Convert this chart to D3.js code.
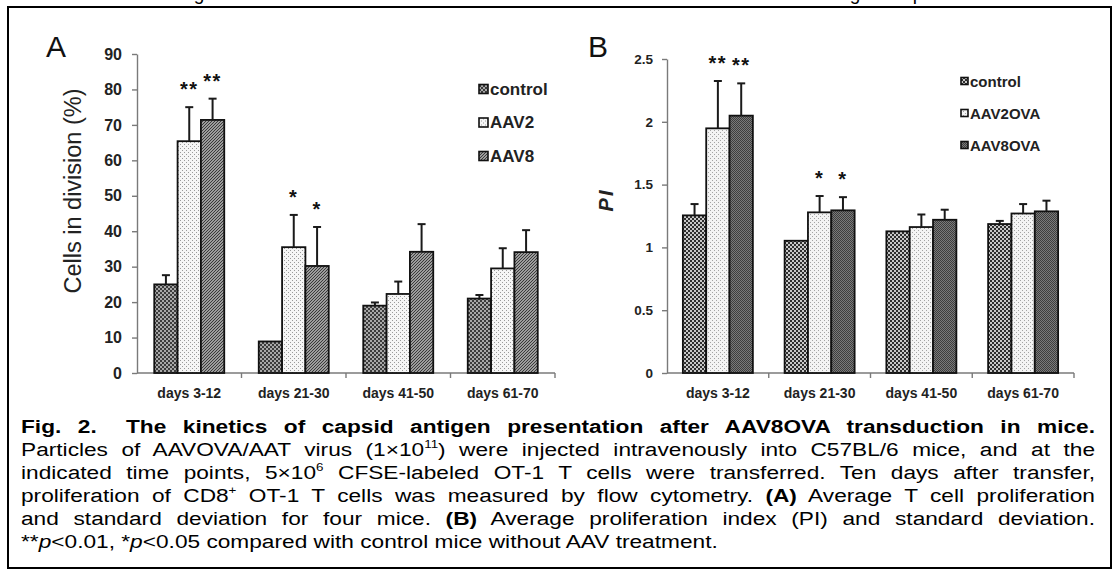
<!DOCTYPE html>
<html>
<head>
<meta charset="utf-8">
<script src="https://cdn.jsdelivr.net/npm/d3@7"></script>
<style>
  body { margin: 0; background: #fff; }
  svg { display: block; }
</style>
</head>
<body>
<svg id="chart" width="1117" height="574"></svg>
<script>
// categories shared by both panels
const categories = ["days 3-12", "days 21-30", "days 41-50", "days 61-70"];

// panel A: cells in division (%)
const seriesA = ["control", "AAV2", "AAV8"];
const controlA = [25.0, 8.9, 19.0, 21.0];
const aav2A = [65.4, 35.5, 22.3, 29.5];
const aav8A = [71.4, 30.2, 34.2, 34.1];
const controlAErr = [2.6, 0, 0.9, 1.0];
const aav2AErr = [9.6, 9.1, 3.5, 5.7];
const aav8AErr = [6.0, 11.0, 7.8, 6.2];
const aav2AStars = ["**", "*", "", ""];
const aav8AStars = ["**", "*", "", ""];
const ticksA = [0, 10, 20, 30, 40, 50, 60, 70, 80, 90];

// panel B: proliferation index
const seriesB = ["control", "AAV2OVA", "AAV8OVA"];
const controlB = [1.255, 1.053, 1.128, 1.186];
const aav2B = [1.948, 1.279, 1.162, 1.270];
const aav8B = [2.049, 1.295, 1.220, 1.287];
const controlBErr = [0.09, 0, 0, 0.025];
const aav2BErr = [0.377, 0.13, 0.10, 0.075];
const aav8BErr = [0.257, 0.105, 0.08, 0.085];
const aav2BStars = ["**", "*", "", ""];
const aav8BStars = ["**", "*", "", ""];
const ticksB = [0, 0.5, 1, 1.5, 2, 2.5];

const svg = d3.select("#chart");
const defs = svg.append("defs");
const font = "'Liberation Sans', Arial, sans-serif";

// fill patterns, like the old excel ones
function checker(id, bg, fg, size, cell) {
  const p = defs.append("pattern").attr("id", id)
    .attr("patternUnits", "userSpaceOnUse").attr("width", size).attr("height", size);
  p.append("rect").attr("width", size).attr("height", size).attr("fill", bg);
  p.append("rect").attr("width", cell).attr("height", cell).attr("fill", fg);
  p.append("rect").attr("x", size / 2).attr("y", size / 2).attr("width", cell).attr("height", cell).attr("fill", fg);
}
function hatch(id, bg, fg) {
  const p = defs.append("pattern").attr("id", id)
    .attr("patternUnits", "userSpaceOnUse").attr("width", 3).attr("height", 3);
  p.append("rect").attr("width", 3).attr("height", 3).attr("fill", bg);
  p.append("path").attr("d", "M-1,1 L1,-1 M0,3 L3,0 M2,4 L4,2").attr("stroke", fg).attr("stroke-width", 1);
}
checker("pA0", "#a8a8a8", "#3c3c3c", 4, 2);
checker("pA1", "#f6f6f6", "#9a9a9a", 4, 1);
hatch("pA2", "#9c9c9c", "#3a3a3a");
checker("pB0", "#2e2e2e", "#c8c8c8", 4, 2);
checker("pB1", "#f4f4f4", "#a4a4a4", 4, 1);
checker("pB2", "#7a7a7a", "#3e3e3e", 2, 1);

function drawPanel(p) {
  const x = d3.scaleBand().domain(categories).range([p.x0, p.x1]);
  const xs = d3.scaleBand().domain(p.series)
    .range([(x.bandwidth() - p.groupW) / 2, (x.bandwidth() + p.groupW) / 2]);
  const y = d3.scaleLinear().domain([0, p.max]).range([p.y0, p.y1]);
  const g = svg.append("g");

  // y axis
  const ya = g.append("g")
    .attr("transform", `translate(${p.x0},0)`)
    .call(d3.axisLeft(y).tickValues(p.ticks).tickSize(5).tickSizeOuter(0)
      .tickPadding(p.pad).tickFormat(d => String(d)));
  ya.select(".domain").attr("stroke", "#7a7a7a").attr("stroke-width", 1.4);
  ya.selectAll(".tick line").attr("stroke", "#7a7a7a").attr("stroke-width", 1.4);
  ya.selectAll(".tick text").attr("fill", "#222").attr("font-family", font)
    .attr("font-weight", "bold").attr("font-size", p.tickFont);

  // x axis, ticks sit between categories
  g.append("line").attr("x1", p.x0).attr("x2", p.x1).attr("y1", y(0)).attr("y2", y(0))
    .attr("stroke", "#7a7a7a").attr("stroke-width", 1.4);
  g.selectAll(".xtick").data(categories).enter().append("line")
    .attr("x1", d => x(d) + x.bandwidth()).attr("x2", d => x(d) + x.bandwidth())
    .attr("y1", y(0)).attr("y2", y(0) + 5)
    .attr("stroke", "#7a7a7a").attr("stroke-width", 1.4);
  g.selectAll(".xlab").data(categories).enter().append("text")
    .attr("x", d => x(d) + x.bandwidth() / 2).attr("y", y(0) + 25)
    .attr("text-anchor", "middle").attr("font-family", font).attr("font-weight", "bold")
    .attr("font-size", 14).attr("fill", "#222").text(d => d);

  // bars
  const rows = [];
  p.series.forEach((s, si) => {
    categories.forEach((c, ci) => {
      rows.push({ s, si, c, v: p.values[si][ci], e: p.errs[si][ci], star: p.stars[si] ? p.stars[si][ci] : "" });
    });
  });
  g.selectAll(".bar").data(rows).enter().append("rect")
    .attr("x", d => x(d.c) + xs(d.s)).attr("y", d => y(d.v))
    .attr("width", xs.bandwidth()).attr("height", d => y(0) - y(d.v))
    .attr("fill", d => `url(#${p.pat}${d.si})`)
    .attr("stroke", "#111").attr("stroke-width", 1.8);

  // error bars (upper only)
  const cx = d => x(d.c) + xs(d.s) + xs.bandwidth() / 2;
  const eb = g.selectAll(".err").data(rows.filter(d => d.e > 0)).enter().append("g");
  eb.append("line")
    .attr("x1", cx).attr("x2", cx)
    .attr("y1", d => y(d.v)).attr("y2", d => y(d.v + d.e))
    .attr("stroke", "#1a1a1a").attr("stroke-width", 2);
  eb.append("line")
    .attr("x1", d => cx(d) - 4).attr("x2", d => cx(d) + 4)
    .attr("y1", d => y(d.v + d.e)).attr("y2", d => y(d.v + d.e))
    .attr("stroke", "#1a1a1a").attr("stroke-width", 2);

  // significance stars
  g.selectAll(".star").data(rows.filter(d => d.star)).enter().append("text")
    .attr("x", cx)
    .attr("y", d => y(d.v + d.e) - 11)
    .attr("text-anchor", "middle").attr("font-family", font).attr("font-weight", "bold")
    .attr("font-size", 20).attr("letter-spacing", 1.5).attr("fill", "#111").text(d => d.star);

  // legend
  const lg = g.selectAll(".leg").data(p.series).enter().append("g")
    .attr("transform", (d, i) => `translate(${p.legX},${p.legY + i * p.legStep})`);
  lg.append("rect").attr("x", 0).attr("y", -p.sw / 2).attr("width", p.sw).attr("height", p.sw)
    .attr("fill", (d, i) => `url(#${p.pat}${i})`).attr("stroke", "#111").attr("stroke-width", 1.6);
  lg.append("text").attr("x", p.sw + 2).attr("y", 0).attr("dominant-baseline", "central")
    .attr("font-family", font).attr("font-weight", "bold").attr("font-size", p.legFont)
    .attr("fill", "#222").text(d => d);

  // axis title
  g.append("text")
    .attr("transform", `translate(${p.titleX},${p.titleY}) rotate(-90)`)
    .attr("text-anchor", "middle").attr("dominant-baseline", "central")
    .attr("font-family", font).attr("font-size", p.titleFont)
    .attr("font-weight", p.titleWeight).attr("font-style", p.titleStyle)
    .attr("letter-spacing", p.titleSpacing).attr("fill", "#222").text(p.title);

  // panel letter
  g.append("text").attr("x", p.letterX).attr("y", 57)
    .attr("font-family", font).attr("font-size", 30).attr("fill", "#111").text(p.letter);
}

drawPanel({
  x0: 137, x1: 555, y0: 373, y1: 54, max: 90, groupW: 70,
  ticks: ticksA, pad: 10, tickFont: 16,
  series: seriesA, values: [controlA, aav2A, aav8A], errs: [controlAErr, aav2AErr, aav8AErr],
  stars: [null, aav2AStars, aav8AStars], pat: "pA",
  legX: 479, legY: 89, legStep: 33.5, sw: 9, legFont: 17,
  title: "Cells in division (%)", titleX: 73, titleY: 191, titleFont: 23.5,
  titleWeight: "normal", titleStyle: "normal", titleSpacing: 0,
  letter: "A", letterX: 46
});

drawPanel({
  x0: 667, x1: 1074, y0: 373, y1: 59, max: 2.5, groupW: 70,
  ticks: ticksB, pad: 9, tickFont: 13.5,
  series: seriesB, values: [controlB, aav2B, aav8B], errs: [controlBErr, aav2BErr, aav8BErr],
  stars: [null, aav2BStars, aav8BStars], pat: "pB",
  legX: 961, legY: 81, legStep: 32, sw: 7, legFont: 15,
  title: "PI", titleX: 606, titleY: 200, titleFont: 20,
  titleWeight: "bold", titleStyle: "italic", titleSpacing: 2,
  letter: "B", letterX: 588
});

// caption: the scanned figure is a bit stretched sideways, so the text is too
const SX = 1.22;
const capLeft = 21, capWidth = 1074, capFont = 18.6;
const capLines = [
  [{ t: "Fig. 2.", b: 1 }, { t: "The kinetics of capsid antigen presentation after AAV8OVA transduction in mice.", b: 1, dx: 24 }],
  [{ t: "Particles of AAVOVA/AAT virus (1×10" }, { t: "11", sup: 1 }, { t: ") were injected intravenously into C57BL/6 mice, and at the" }],
  [{ t: "indicated time points, 5×10" }, { t: "6", sup: 1 }, { t: " CFSE-labeled OT-1 T cells were transferred. Ten days after transfer," }],
  [{ t: "proliferation of CD8" }, { t: "+", sup: 1 }, { t: " OT-1 T cells was measured by flow cytometry. " }, { t: "(A)", b: 1 }, { t: " Average T cell proliferation" }],
  [{ t: "and standard deviation for four mice. " }, { t: "(B)", b: 1 }, { t: " Average proliferation index (PI) and standard deviation." }],
  [{ t: "**" }, { t: "p", i: 1 }, { t: "<0.01, *" }, { t: "p", i: 1 }, { t: "<0.05 compared with control mice without AAV treatment." }]
];
const cap = svg.append("g").attr("transform", `translate(${capLeft},0) scale(${SX},1)`);
capLines.forEach((line, li) => {
  const txt = cap.append("text").attr("x", 0).attr("y", 433 + li * 23)
    .attr("font-family", font).attr("font-size", capFont).attr("fill", "#000")
    .style("white-space", "pre");
  let up = false;
  line.forEach(s => {
    const ts = txt.append("tspan").text(s.t);
    if (s.b) ts.attr("font-weight", "bold");
    if (s.i) ts.attr("font-style", "italic");
    if (s.dx) ts.attr("dx", s.dx);
    if (s.sup) { ts.attr("font-size", 11).attr("dy", -8); up = true; }
    else if (up) { ts.attr("dy", 8); up = false; }
  });
  if (li < capLines.length - 1) {
    // measure with the real extent so the dx gap is counted too
    const bb = txt.node().getBBox();
    const natural = bb.x + bb.width;
    const spaces = line.map(s => s.t).join("").split(" ").length - 1;
    txt.attr("word-spacing", (capWidth / SX - natural) / spaces);
  }
});

// frame around the figure
svg.append("rect").attr("x", 8).attr("y", 7).attr("width", 1103).attr("height", 561)
  .attr("fill", "none").attr("stroke", "#000").attr("stroke-width", 2);

// bits of the previous text line, cut off at the top edge
svg.selectAll(".cut").data([["g", 199], ["g", 855], ["p", 918]]).enter().append("text")
  .attr("x", d => d[1]).attr("y", 0).attr("text-anchor", "middle")
  .attr("font-family", font).attr("font-size", 19).attr("fill", "#000").text(d => d[0]);
</script>
</body>
</html>
